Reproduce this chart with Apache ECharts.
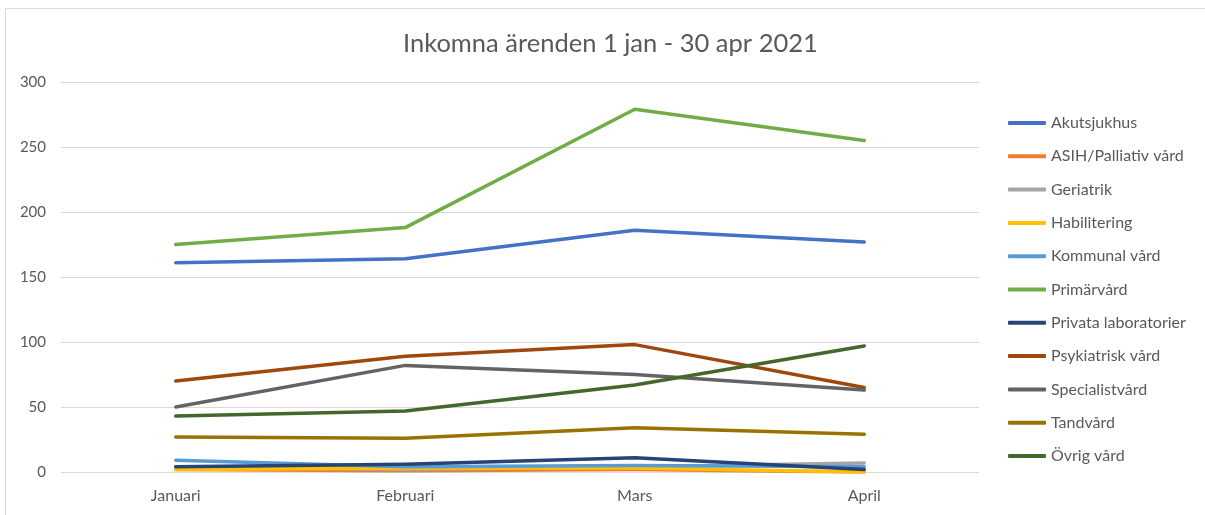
<!DOCTYPE html>
<html><head><meta charset="utf-8">
<script src="https://cdn.jsdelivr.net/npm/echarts@6/dist/echarts.min.js"></script>
<style>html,body{margin:0;padding:0;background:#fff}#c{width:1205px;height:515px}</style>
</head><body><div id="c"></div>
<script>
const categories = ['Januari', 'Februari', 'Mars', 'April'];
const seriesNames = ['Akutsjukhus', 'ASIH/Palliativ vård', 'Geriatrik', 'Habilitering', 'Kommunal vård', 'Primärvård', 'Privata laboratorier', 'Psykiatrisk vård', 'Specialistvård', 'Tandvård', 'Övrig vård'];
const akutsjukhus = [161, 164, 186, 177];
const asih = [2, 1, 2, 0];
const geriatrik = [4, 2, 4, 7];
const habilitering = [2, 3, 3, 0];
const kommunal = [9, 4, 5, 4];
const primarvard = [175, 188, 279, 255];
const privataLab = [4, 6, 11, 2];
const psykiatrisk = [70, 89, 98, 65];
const specialist = [50, 82, 75, 63];
const tandvard = [27, 26, 34, 29];
const ovrig = [43, 47, 67, 97];
const yTicks = [0, 50, 100, 150, 200, 250, 300];
const colors = ['#4472C4', '#ED7D31', '#A5A5A5', '#FFC000', '#5B9BD5', '#70AD47', '#264478', '#9E480E', '#636363', '#997300', '#43682B'];
const allData = [akutsjukhus, asih, geriatrik, habilitering, kommunal, primarvard, privataLab, psykiatrisk, specialist, tandvard, ovrig];

const chart = echarts.init(document.getElementById('c'));
const txt = '#595959';
chart.setOption({
  animation: false,
  color: colors,
  textStyle: { fontFamily: 'Lato, "Open Sans", sans-serif' },
  graphic: [{ type: 'rect', shape: { x: 5.5, y: 8.5, width: 1300, height: 600 }, style: { fill: 'none', stroke: '#d9d9d9', lineWidth: 1 }, silent: true }],
  title: {
    text: 'Inkomna ärenden 1 jan - 30 apr 2021', left: 398, top: 26,
    textStyle: { fontSize: 25.5, fontWeight: 'normal', color: txt, fontFamily: 'Lato, sans-serif' }
  },
  grid: { left: 61, right: 226, top: 82, bottom: 43, containLabel: false },
  legend: {
    orient: 'vertical', left: 1003, top: 110,
    itemWidth: 38, itemHeight: 4, itemGap: 17.3, icon: 'roundRect',
    textStyle: { fontSize: 16, color: txt, lineHeight: 16, padding: [0, 0, 0, 0] },
    data: seriesNames
  },
  xAxis: {
    type: 'category', data: categories, boundaryGap: true,
    axisLine: { show: false }, axisTick: { show: false },
    axisLabel: { fontSize: 16, color: txt, margin: 16 }
  },
  yAxis: {
    type: 'value', min: yTicks[0], max: yTicks[yTicks.length - 1], interval: 50,
    axisLine: { show: false }, axisTick: { show: false },
    axisLabel: { fontSize: 15, color: txt, margin: 15 },
    splitLine: { lineStyle: { color: '#d9d9d9', width: 1 } }
  },
  series: seriesNames.map((n, i) => ({
    name: n, type: 'line', data: allData[i], symbol: 'none',
    lineStyle: { width: 3.5, cap: 'round', join: 'round' }
  }))
});
</script></body></html>
